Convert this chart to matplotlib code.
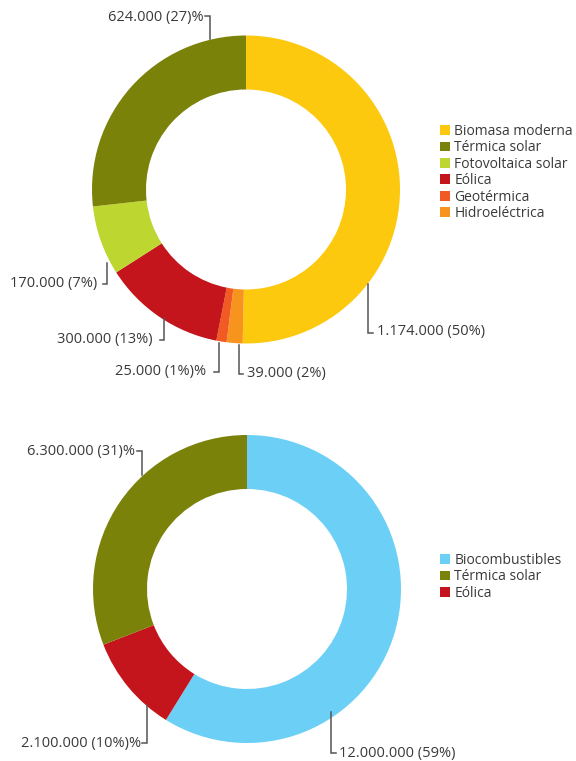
import matplotlib.pyplot as plt

plt.rcParams['font.family'] = ['Open Sans', 'DejaVu Sans']

# ---------------------------------------------------------
# Data (legend order)
# ---------------------------------------------------------
top_names = ["Biomasa moderna", "Térmica solar", "Fotovoltaica solar",
             "Eólica", "Geotérmica", "Hidroeléctrica"]
top_values = [1174000, 624000, 170000, 300000, 25000, 39000]
top_colors = ["#fdc90f", "#7a8209", "#bdd630", "#c4141c", "#f15a22", "#f7941d"]
top_labels = ["1.174.000 (50%)", "624.000 (27)%", "170.000 (7%)",
              "300.000 (13%)", "25.000 (1%)%", "39.000 (2%)"]

bot_names = ["Biocombustibles", "Térmica solar", "Eólica"]
bot_values = [12000000, 6300000, 2100000]
bot_colors = ["#6bcff6", "#7a8209", "#c4141c"]
bot_labels = ["12.000.000 (59%)", "6.300.000 (31)%", "2.100.000 (10%)%"]

W, H = 576, 761
TXT = "#3a3a3a"
LINE = "#555555"


def py(y):
    # pixel row (from top) -> data y
    return H - y


# ---------------------------------------------------------
# Draw one donut: first slice clockwise from top, rest reversed
# ---------------------------------------------------------
def donut(ax, values, colors, center):
    order = [0] + list(range(len(values) - 1, 0, -1))
    wedges, _ = ax.pie([values[i] for i in order],
                       colors=[colors[i] for i in order],
                       startangle=90, counterclock=False,
                       center=center, radius=154,
                       wedgeprops=dict(width=54, linewidth=0))
    handles = [None] * len(values)
    for w, i in zip(wedges, order):
        handles[i] = w
    return handles


# leader: label text, text anchor, line path (pixel coords)
def leader(ax, text, tx, ty, ha, path):
    ax.plot([p[0] for p in path], [py(p[1]) for p in path],
            color=LINE, lw=1.1, solid_joinstyle="miter")
    ax.text(tx, py(ty), text, ha=ha, va="center", fontsize=10.5, color=TXT)


fig = plt.figure(figsize=(W / 100, H / 100), dpi=100)
ax = fig.add_axes([0, 0, 1, 1])

h_top = donut(ax, top_values, top_colors, (246, py(189.5)))
h_bot = donut(ax, bot_values, bot_colors, (247, py(589)))

ax.set_xlim(0, W)
ax.set_ylim(0, H)
ax.axis("off")

# top donut labels
leader(ax, top_labels[0], 377, 331, "left", [(368, 284), (368, 333), (373, 333)])
leader(ax, top_labels[1], 204, 17, "right", [(205, 16), (210, 16), (210, 39)])
leader(ax, top_labels[2], 97, 284, "right", [(103, 284), (107, 284), (107, 263)])
leader(ax, top_labels[3], 153, 340, "right", [(160, 340), (164, 340), (164, 318)])
leader(ax, top_labels[4], 206, 372, "right", [(214, 372), (219, 372), (219, 343)])
leader(ax, top_labels[5], 247, 374, "left", [(243, 374), (238.5, 374), (238.5, 345)])

# bottom donut labels
leader(ax, bot_labels[0], 339, 753, "left", [(331, 712), (331, 753), (336, 753)])
leader(ax, bot_labels[1], 135, 451, "right", [(137, 451), (142, 451), (142, 475)])
leader(ax, bot_labels[2], 141, 743, "right", [(142, 743), (147, 743), (147, 705)])

leg_kw = dict(loc="upper left", frameon=False, fontsize=10,
              handlelength=0.72, handleheight=0.72, handletextpad=0.3,
              labelspacing=0.1, borderpad=0, borderaxespad=0,
              bbox_transform=ax.transData, labelcolor=TXT)
leg1 = ax.legend(h_top, top_names, bbox_to_anchor=(440, py(124)), **leg_kw)
ax.add_artist(leg1)
ax.legend(h_bot, bot_names, bbox_to_anchor=(440, py(553)), **leg_kw)

fig.savefig("out.png", dpi=100)
